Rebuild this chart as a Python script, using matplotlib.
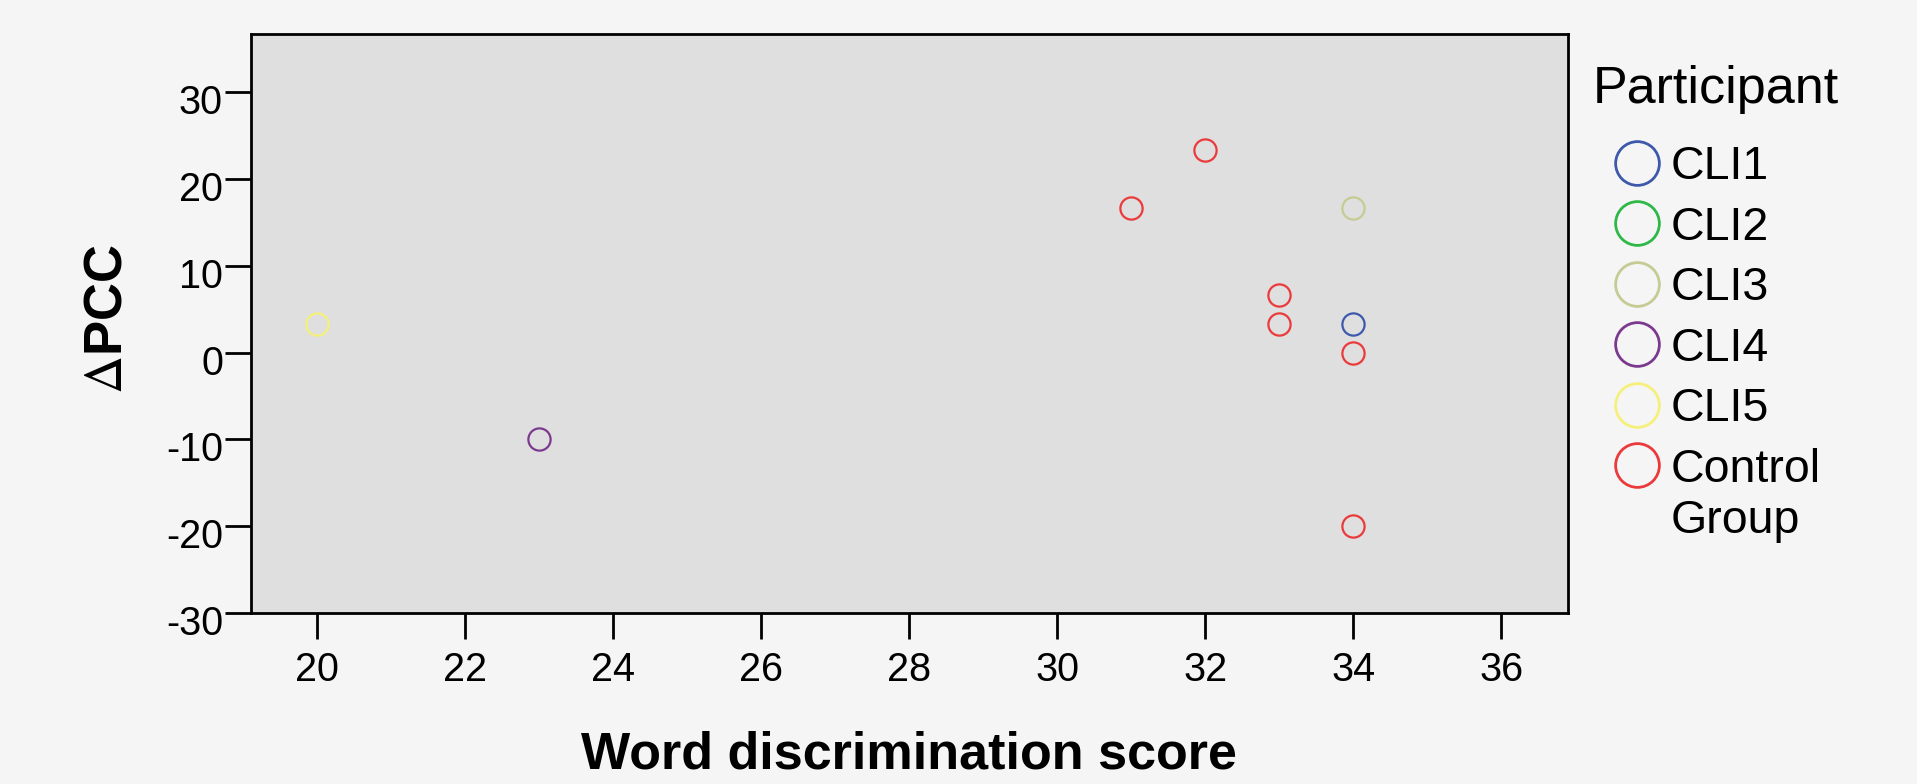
import matplotlib
matplotlib.use("Agg")
import matplotlib.pyplot as plt
from matplotlib.lines import Line2D
from matplotlib.transforms import ScaledTranslation

plt.rcParams["font.family"] = ["Liberation Sans", "DejaVu Sans"]
plt.rcParams["axes.unicode_minus"] = False
plt.rcParams["mathtext.fontset"] = "stix"

# Participant groups and their scores
participants = ["CLI1", "CLI2", "CLI3", "CLI4", "CLI5", "Control"]
colors = ["#3E58AC", "#2EB848", "#C5CB93", "#7C3A8F", "#F5F07A", "#EB3A3C"]

word_scores = {
    "CLI1": [34],
    "CLI2": [],
    "CLI3": [34],
    "CLI4": [23],
    "CLI5": [20],
    "Control": [32, 31, 33, 33, 34, 34],
}
delta_pcc = {
    "CLI1": [3.33],
    "CLI2": [],
    "CLI3": [16.67],
    "CLI4": [-10.0],
    "CLI5": [3.33],
    "Control": [23.33, 16.67, 6.67, 3.33, 0.0, -20.0],
}

x_ticks = [20, 22, 24, 26, 28, 30, 32, 34, 36]
y_ticks = [-30, -20, -10, 0, 10, 20, 30]

W, H = 1917, 784
fig = plt.figure(figsize=(W / 100, H / 100), dpi=100, facecolor="#F5F5F5")
ax_l, ax_r, ax_t, ax_b = 250.7, 1567.7, 34.0, 613.3
ax_w, ax_h = ax_r - ax_l, ax_b - ax_t
ax = fig.add_axes([ax_l / W, 1 - ax_b / H, ax_w / W, ax_h / H])
ax.set_facecolor("#DFDFDF")

for name, col in zip(participants, colors):
    xs, ys = word_scores[name], delta_pcc[name]
    if xs:
        ax.plot(xs, ys, linestyle="none", marker="o", markersize=16,
                markerfacecolor="none", markeredgecolor=col,
                markeredgewidth=1.6, zorder=3)

ax.set_xlim(19.1, 36.9)
ax.set_ylim(-30, 36.64)
ax.set_xticks(x_ticks)
ax.set_yticks(y_ticks)
ax.tick_params(axis="both", labelsize=28.5, length=18.5, width=2.0,
               color="black")
ax.tick_params(axis="x", pad=9)
ax.tick_params(axis="y", pad=1.5)
for sp in ax.spines.values():
    sp.set_linewidth(2.0)
    sp.set_color("black")

# y tick labels sit slightly below their tick marks
shift = ScaledTranslation(0, -7 / 100, fig.dpi_scale_trans)
for lab in ax.get_yticklabels():
    lab.set_transform(lab.get_transform() + shift)

ax.set_xlabel("Word discrimination score", fontsize=37.5, fontweight="bold",
              va="center")
ax.xaxis.set_label_coords((908.6 - ax_l) / ax_w, (ax_b - 755) / ax_h)
ax.set_ylabel(r"$\Delta$PCC", fontsize=38, fontweight="bold", va="center")
ax.yaxis.set_label_coords((107.5 - ax_l) / ax_w, (ax_b - 319) / ax_h)

handles = [Line2D([], [], linestyle="none", marker="o", markersize=31.5,
                  markerfacecolor="none", markeredgecolor=c,
                  markeredgewidth=2.0) for c in colors]
leg_x = (1592.7 - ax_l) / ax_w
leg = ax.legend(handles, participants, title="Participant",
                loc="upper left", bbox_to_anchor=(leg_x, 1.0),
                frameon=False, fontsize=33.5, title_fontsize=37.5,
                handlelength=1.9, handletextpad=-0.22, labelspacing=0.355,
                borderaxespad=0, borderpad=0)
leg._legend_box.align = "left"
leg._legend_box.sep = 20

# place the title baseline and the first row of the legend
title_base_y = H - 102.7
first_row_y = H - 162.7

fig.canvas.draw()
rend = fig.canvas.get_renderer()


def title_baseline():
    t = leg.get_title()
    bb = t.get_window_extent(rend)
    _, _, d = rend.get_text_width_height_descent(
        "lp", t.get_fontproperties(), ismath=False)
    return bb.y0 + d


def first_row_center():
    bb = leg.legend_handles[0].get_window_extent(rend)
    return 0.5 * (bb.y0 + bb.y1)


gap = title_baseline() - first_row_center()
leg._legend_box.sep += (title_base_y - first_row_y - gap) * 72 / 100
fig.canvas.draw()
dy = title_base_y - title_baseline()
leg.set_bbox_to_anchor((leg_x, 1.0 + dy / ax_h), transform=ax.transAxes)
fig.canvas.draw()

# second line of the control group's label
ctrl = leg.get_texts()[-1]
bb = ctrl.get_window_extent(rend)
fig.text(bb.x0 / W, (bb.y0 - 51.7) / H, "Group", fontsize=33.5,
         ha="left", va="bottom")

fig.savefig("out.png", dpi=100, facecolor=fig.get_facecolor())
